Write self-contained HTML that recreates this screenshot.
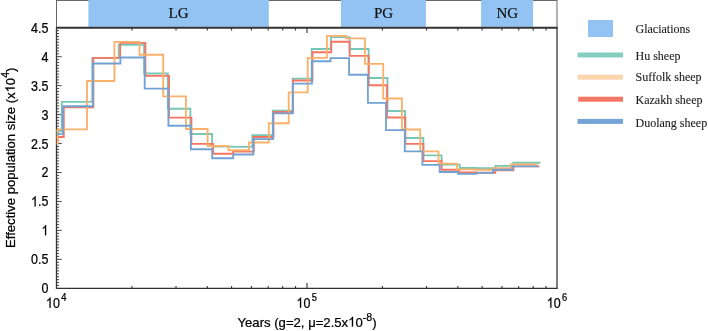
<!DOCTYPE html><html><head><meta charset="utf-8"><style>
html,body{margin:0;padding:0;background:#fff;width:708px;height:331px;overflow:hidden}
svg{display:block;will-change:transform}
text{-webkit-font-smoothing:antialiased}
.s{font-family:"Liberation Sans",sans-serif;fill:#000;stroke:#000;stroke-width:0.25px}
.r{font-family:"Liberation Serif",serif;fill:#111;stroke:#111;stroke-width:0.2px}
.one{fill:none;stroke:none}
.lg{font-family:"Liberation Serif",serif;fill:#1c1c1c;stroke:#1c1c1c;stroke-width:0.12px}
</style></head><body>
<svg width="708" height="331" viewBox="0 0 708 331">
<rect x="56.5" y="0.5" width="500.5" height="27" fill="#fff" stroke="#666" stroke-width="1"/>
<rect x="88.4" y="0" width="180.4" height="26.8" fill="#93C3F3"/>
<text class="r" x="178.5" y="18.3" font-size="15" text-anchor="middle">LG</text>
<rect x="340.9" y="0" width="85.0" height="26.8" fill="#93C3F3"/>
<text class="r" x="383.5" y="18.3" font-size="15" text-anchor="middle">PG</text>
<rect x="481.1" y="0" width="52.0" height="26.8" fill="#93C3F3"/>
<text class="r" x="507.3" y="18.3" font-size="15" text-anchor="middle">NG</text>
<line x1="56.5" y1="27.7" x2="557.6" y2="27.7" stroke="#333" stroke-width="2"/>
<line x1="56.5" y1="288.3" x2="557.3" y2="288.3" stroke="#333" stroke-width="1.2"/>
<line x1="56.5" y1="27.7" x2="56.5" y2="288.9" stroke="#333" stroke-width="1.3"/>
<line x1="557.0" y1="27.7" x2="557.0" y2="288.9" stroke="#262626" stroke-width="1.2"/>
<path d="M56.5 285.41h2.6M56.5 282.51h2.6M56.5 279.62h2.6M56.5 276.72h2.6M56.5 273.82h2.6M56.5 270.93h2.6M56.5 268.04h2.6M56.5 265.14h2.6M56.5 262.25h2.6M56.5 259.35h5.2M56.5 256.45h2.6M56.5 253.56h2.6M56.5 250.67h2.6M56.5 247.77h2.6M56.5 244.88h2.6M56.5 241.98h2.6M56.5 239.09h2.6M56.5 236.19h2.6M56.5 233.30h2.6M56.5 230.40h5.2M56.5 227.50h2.6M56.5 224.61h2.6M56.5 221.72h2.6M56.5 218.82h2.6M56.5 215.93h2.6M56.5 213.03h2.6M56.5 210.13h2.6M56.5 207.24h2.6M56.5 204.34h2.6M56.5 201.45h5.2M56.5 198.56h2.6M56.5 195.66h2.6M56.5 192.76h2.6M56.5 189.87h2.6M56.5 186.98h2.6M56.5 184.08h2.6M56.5 181.19h2.6M56.5 178.29h2.6M56.5 175.40h2.6M56.5 172.50h5.2M56.5 169.61h2.6M56.5 166.71h2.6M56.5 163.82h2.6M56.5 160.92h2.6M56.5 158.03h2.6M56.5 155.13h2.6M56.5 152.24h2.6M56.5 149.34h2.6M56.5 146.44h2.6M56.5 143.55h5.2M56.5 140.66h2.6M56.5 137.76h2.6M56.5 134.86h2.6M56.5 131.97h2.6M56.5 129.08h2.6M56.5 126.18h2.6M56.5 123.28h2.6M56.5 120.39h2.6M56.5 117.50h2.6M56.5 114.60h5.2M56.5 111.71h2.6M56.5 108.81h2.6M56.5 105.91h2.6M56.5 103.02h2.6M56.5 100.13h2.6M56.5 97.23h2.6M56.5 94.34h2.6M56.5 91.44h2.6M56.5 88.55h2.6M56.5 85.65h5.2M56.5 82.75h2.6M56.5 79.86h2.6M56.5 76.97h2.6M56.5 74.07h2.6M56.5 71.18h2.6M56.5 68.28h2.6M56.5 65.39h2.6M56.5 62.49h2.6M56.5 59.59h2.6M56.5 56.70h5.2M56.5 53.81h2.6M56.5 50.91h2.6M56.5 48.01h2.6M56.5 45.12h2.6M56.5 42.23h2.6M56.5 39.33h2.6M56.5 36.43h2.6M56.5 33.54h2.6M56.5 30.64h2.6" stroke="#333" stroke-width="0.9" fill="none"/>
<path d="M131.91 288.3v-2.3M131.91 27.7v2.8M176.02 288.3v-2.3M176.02 27.7v2.8M207.32 288.3v-2.3M207.32 27.7v2.8M231.59 288.3v-2.3M231.59 27.7v2.8M251.43 288.3v-2.3M251.43 27.7v2.8M268.20 288.3v-2.3M268.20 27.7v2.8M282.72 288.3v-2.3M282.72 27.7v2.8M295.54 288.3v-2.3M295.54 27.7v2.8M307.00 288.3v-5.2M307.00 27.7v5.2M382.41 288.3v-2.3M382.41 27.7v2.8M426.52 288.3v-2.3M426.52 27.7v2.8M457.82 288.3v-2.3M457.82 27.7v2.8M482.09 288.3v-2.3M482.09 27.7v2.8M501.93 288.3v-2.3M501.93 27.7v2.8M518.70 288.3v-2.3M518.70 27.7v2.8M533.22 288.3v-2.3M533.22 27.7v2.8M546.04 288.3v-2.3M546.04 27.7v2.8" stroke="#333" stroke-width="1.1" fill="none"/>
<text class="s" transform="translate(48.4 293.2) scale(0.88 1)" font-size="14.2" text-anchor="end">0</text>
<text class="s" transform="translate(48.4 264.2) scale(0.88 1)" font-size="14.2" text-anchor="end">0.5</text>
<text class="s" transform="translate(48.4 235.3) scale(0.88 1)" font-size="14.2" text-anchor="end"><tspan class="one">1</tspan></text>
<text class="s" transform="translate(48.4 206.4) scale(0.88 1)" font-size="14.2" text-anchor="end"><tspan class="one">1</tspan>.5</text>
<text class="s" transform="translate(48.4 177.4) scale(0.88 1)" font-size="14.2" text-anchor="end">2</text>
<text class="s" transform="translate(48.4 148.5) scale(0.88 1)" font-size="14.2" text-anchor="end">2.5</text>
<text class="s" transform="translate(48.4 119.5) scale(0.88 1)" font-size="14.2" text-anchor="end">3</text>
<text class="s" transform="translate(48.4 90.6) scale(0.88 1)" font-size="14.2" text-anchor="end">3.5</text>
<text class="s" transform="translate(48.4 61.6) scale(0.88 1)" font-size="14.2" text-anchor="end">4</text>
<text class="s" transform="translate(48.4 32.6) scale(0.88 1)" font-size="14.2" text-anchor="end">4.5</text>
<text class="s" transform="translate(56.2 307.7) scale(0.88 1)" font-size="14.2" text-anchor="middle"><tspan class="one">1</tspan>0<tspan font-size="10.6" dx="1.6" dy="-6.5">4</tspan></text>
<text class="s" transform="translate(306.7 307.7) scale(0.88 1)" font-size="14.2" text-anchor="middle"><tspan class="one">1</tspan>0<tspan font-size="10.6" dx="1.6" dy="-6.5">5</tspan></text>
<text class="s" transform="translate(557.0 307.7) scale(0.88 1)" font-size="14.2" text-anchor="middle"><tspan class="one">1</tspan>0<tspan font-size="10.6" dx="1.6" dy="-6.5">6</tspan></text>
<text class="s" transform="translate(307.05 326.6) scale(0.965 1)" font-size="13.6" text-anchor="middle">Years (g=2, μ=2.5x<tspan class="one">1</tspan>0<tspan font-size="11" dy="-5.6">-8</tspan><tspan dy="5.6">)</tspan></text>
<text class="s" transform="translate(14.7 157.8) rotate(-90) scale(1.0 1)" x="0" y="0" font-size="13.1" text-anchor="middle">Effective population size (x<tspan class="one">1</tspan>0<tspan font-size="10.5" dy="-5.6">4</tspan><tspan dy="5.6">)</tspan></text>
<g fill="none" stroke-width="1.85" stroke-linejoin="miter" stroke-linecap="butt">
<path stroke="#76C7B6" d="M56.5 131.0H61.8V101.8H92.3V57.8H118.7V44.7H144.1V73.5H167.8V108.7H190.4V134.0H212.1V146.6H232.6V146.9H252.3V135.1H272.8V110.6H292.7V78.6H311.7V49.0H330.8V37.1H349.5V49.0H368.6V78.0H387.5V111.0H405.0V138.0H423.3V155.3H441.6V164.6H459.7V168.0H477.0V168.1H495.4V165.9H513.3V162.7H540.5"/>
<path stroke="#F57562" d="M56.5 137.0H63.8V107.2H93.4V57.8H120.2V42.9H145.4V75.9H169.0V117.6H191.4V143.8H213.1V153.7H233.2V151.6H253.8V137.0H273.5V112.0H293.0V80.5H312.5V52.2H331.3V41.7H349.7V55.8H368.7V85.2H387.0V117.5H405.4V143.9H423.4V161.1H441.6V169.7H459.2V172.5H477.0V172.7H495.3V170.2H513.4V166.3H539.5"/>
<path stroke="#FCB16A" d="M56.5 143.6H57.6V129.4H87.0V81.0H114.4V41.9H139.5V54.7H163.2V96.4H185.9V129.0H207.6V146.0H228.5V150.2H248.9V142.5H268.8V123.2H288.7V92.3H307.7V57.8H326.9V35.9H345.9V38.4H364.9V63.9H383.2V98.5H401.9V129.5H420.2V151.4H438.5V163.6H457.0V169.3H475.0V169.7H492.6V168.1H510.7V164.5H537.6"/>
<path stroke="#72A2D3" d="M56.5 133.9H62.8V106.2H92.9V63.5H120.4V57.5H144.7V88.6H168.4V125.7H190.9V149.2H212.2V158.2H233.2V154.5H253.3V139.1H273.0V113.4H292.8V83.6H312.0V61.2H330.5V58.1H349.1V74.7H367.9V102.9H386.0V130.1H404.8V151.4H422.4V164.8H439.7V172.0H458.0V173.8H476.4V172.9H493.0V169.7H512.3V166.3H538.4"/>
</g>
<rect x="588" y="20" width="25" height="17" fill="#93C3F3"/>
<text class="lg" x="635.5" y="32.7" font-size="12">Glaciations</text>
<rect x="577.5" y="52.5" width="45.5" height="5" fill="#84CFC2"/>
<text class="lg" x="635.5" y="59.8" font-size="12">Hu sheep</text>
<rect x="577.5" y="74.7" width="45.5" height="5" fill="#FBD5AC"/>
<text class="lg" x="635.5" y="81.2" font-size="12">Suffolk sheep</text>
<rect x="578.2" y="96.7" width="44.8" height="5" fill="#F37764"/>
<text class="lg" x="635.5" y="103.8" font-size="12">Kazakh sheep</text>
<rect x="577.5" y="118.9" width="45.5" height="5" fill="#74A4D5"/>
<text class="lg" x="635.5" y="126.9" font-size="12">Duolang sheep</text>
<path fill="#000" stroke="#000" style="stroke-width:36.1px" transform="translate(48.4 235.3) scale(0.88 1) translate(-7.896 0.000) scale(0.006934 -0.006934)" d="M763 0L583 0L583 1147Q518 1085 412 1023Q306 961 222 930L222 1104Q373 1175 486 1276Q599 1377 646 1472L763 1472Z"/>
<path fill="#000" stroke="#000" style="stroke-width:36.1px" transform="translate(48.4 206.4) scale(0.88 1) translate(-19.740 0.000) scale(0.006934 -0.006934)" d="M763 0L583 0L583 1147Q518 1085 412 1023Q306 961 222 930L222 1104Q373 1175 486 1276Q599 1377 646 1472L763 1472Z"/>
<path fill="#000" stroke="#000" style="stroke-width:36.1px" transform="translate(56.2 307.7) scale(0.88 1) translate(-11.641 0.000) scale(0.006934 -0.006934)" d="M763 0L583 0L583 1147Q518 1085 412 1023Q306 961 222 930L222 1104Q373 1175 486 1276Q599 1377 646 1472L763 1472Z"/>
<path fill="#000" stroke="#000" style="stroke-width:36.1px" transform="translate(306.7 307.7) scale(0.88 1) translate(-11.641 0.000) scale(0.006934 -0.006934)" d="M763 0L583 0L583 1147Q518 1085 412 1023Q306 961 222 930L222 1104Q373 1175 486 1276Q599 1377 646 1472L763 1472Z"/>
<path fill="#000" stroke="#000" style="stroke-width:36.1px" transform="translate(557.0 307.7) scale(0.88 1) translate(-11.641 0.000) scale(0.006934 -0.006934)" d="M763 0L583 0L583 1147Q518 1085 412 1023Q306 961 222 930L222 1104Q373 1175 486 1276Q599 1377 646 1472L763 1472Z"/>
<path fill="#000" stroke="#000" style="stroke-width:37.6px" transform="translate(307.05 326.6) scale(0.965 1) translate(42.606 0.000) scale(0.006641 -0.006641)" d="M763 0L583 0L583 1147Q518 1085 412 1023Q306 961 222 930L222 1104Q373 1175 486 1276Q599 1377 646 1472L763 1472Z"/>
<path fill="#000" stroke="#000" style="stroke-width:39.1px" transform="translate(14.7 157.8) rotate(-90) scale(1.0 1) translate(65.352 0.000) scale(0.006396 -0.006396)" d="M763 0L583 0L583 1147Q518 1085 412 1023Q306 961 222 930L222 1104Q373 1175 486 1276Q599 1377 646 1472L763 1472Z"/>
</svg></body></html>
